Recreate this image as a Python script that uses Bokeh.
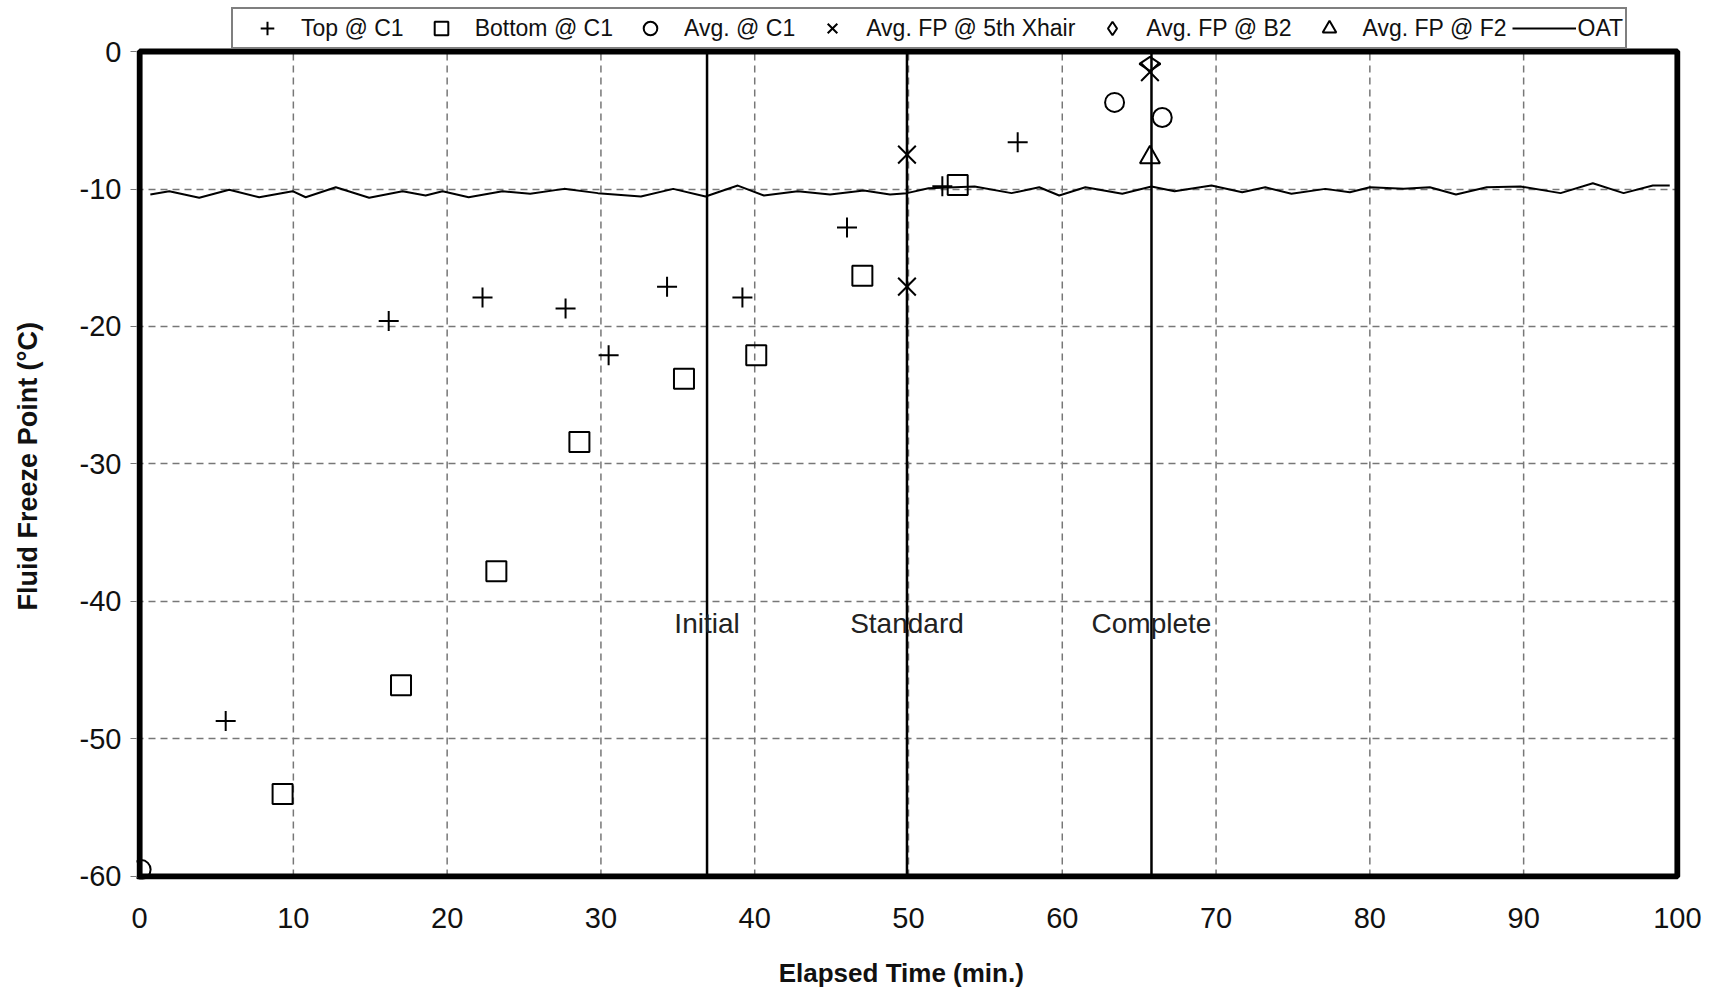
import math
from bokeh.plotting import figure
from bokeh.models import Range1d, FixedTicker, Legend, LegendItem
from bokeh.core.properties import value
from bokeh.embed import file_html
from bokeh.resources import INLINE

# ---- data ----
top_x = [5.6, 16.2, 22.3, 27.7, 30.5, 34.3, 39.2, 46.0, 52.2, 57.1]
top_y = [-48.7, -19.6, -17.9, -18.7, -22.1, -17.1, -17.9, -12.8, -9.8, -6.6]

bot_x = [9.3, 17.0, 23.2, 28.6, 35.4, 40.1, 47.0, 53.2]
bot_y = [-54.0, -46.1, -37.8, -28.4, -23.8, -22.1, -16.3, -9.7]

avg_x = [0.1, 63.4, 66.5]
avg_y = [-59.5, -3.7, -4.8]

xhair_x = [49.9, 49.9, 65.7]
xhair_y = [-7.5, -17.1, -1.5]

b2_x = [65.7]
b2_y = [-0.9]

f2_x = [65.7]
f2_y = [-7.7]

oat_x = [0.7, 1.93, 3.88, 5.83, 7.78, 9.95, 10.8, 12.76, 14.93, 17.1, 18.6, 19.7,
         21.4, 23.6, 25.4, 27.6, 29.8, 32.6, 34.7, 36.8, 38.9, 40.6, 42.8, 44.9,
         47.1, 48.8, 49.9, 51.3, 54.3, 56.7, 58.5, 59.8, 61.5, 63.9, 65.8, 67.3,
         69.7, 71.7, 73.2, 74.9, 77.1, 78.7, 80.0, 82.2, 83.9, 85.6, 87.6, 89.8,
         92.4, 94.5, 96.5, 98.4, 99.5]
oat_y = [-10.4, -10.16, -10.64, -10.06, -10.6, -10.16, -10.6, -9.87, -10.64, -10.16, -10.47, -10.16,
         -10.6, -10.16, -10.35, -9.99, -10.3, -10.55, -9.99, -10.55, -9.75, -10.47, -10.16, -10.4,
         -10.11, -10.4, -10.3, -9.95, -9.82, -10.3, -9.87, -10.47, -9.87, -10.35, -9.82, -10.16,
         -9.75, -10.23, -9.87, -10.35, -9.99, -10.23, -9.87, -9.99, -9.87, -10.4, -9.87, -9.82,
         -10.3, -9.58, -10.3, -9.75, -9.75]

event_x = [36.9, 49.9, 65.8]
event_labels = ["Initial", "Standard", "Complete"]
event_label_y = [-41.6, -41.6, -41.6]

x_min, x_max = 0, 100
y_min, y_max = -60, 0
x_ticks = [0, 10, 20, 30, 40, 50, 60, 70, 80, 90, 100]
y_ticks = [0, -10, -20, -30, -40, -50, -60]
y_tick_labels = ["0", "-10", "-20", "-30", "-40", "-50", "-60"]

FONT = "Liberation Sans"
NB = "\u00a0"

# frame reaches up under the legend; the chart box itself is drawn as a quad
p = figure(width=1711, height=992, output_backend="svg", toolbar_location=None,
           x_range=Range1d(-0.2, 100.2), y_range=Range1d(-60.22, 3.71))
p.min_border_left = 136
p.min_border_right = 31
p.min_border_top = 0
p.min_border_bottom = 113
p.outline_line_color = None

# grids
p.ygrid.ticker = FixedTicker(ticks=y_ticks)
p.ygrid.grid_line_color = "#777777"
p.ygrid.grid_line_dash = "7 5"
p.ygrid.grid_line_width = 1.5
p.xgrid.visible = False
p.segment(x0=x_ticks, y0=[y_min] * len(x_ticks), x1=x_ticks, y1=[y_max] * len(x_ticks),
          line_color="#777777", line_dash="7 5", line_width=1.5)

# chart box
p.quad(left=[x_min], right=[x_max], bottom=[y_min], top=[y_max],
       fill_color=None, line_color="black", line_width=6)

# axes
p.xaxis.ticker = FixedTicker(ticks=x_ticks)
p.yaxis.ticker = FixedTicker(ticks=y_ticks)
p.yaxis.major_label_overrides = {t: l for t, l in zip(y_ticks, y_tick_labels)}
for ax in (p.xaxis[0], p.yaxis[0]):
    ax.axis_line_color = None
    ax.minor_tick_line_color = None
    ax.major_label_text_font = FONT
    ax.major_label_text_font_size = "29px"
    ax.major_label_text_color = "#111111"
    ax.axis_label_text_font = FONT
    ax.axis_label_text_font_style = "bold"
    ax.axis_label_text_color = "#111111"
p.xaxis.major_tick_out = 0
p.xaxis.major_tick_in = 0
p.xaxis.major_label_standoff = 28
p.xaxis.axis_label = "Elapsed Time (min.)" + NB * 2
p.xaxis.axis_label_text_font_size = "26px"
p.xaxis.axis_label_standoff = 27
p.yaxis.major_tick_out = 6
p.yaxis.major_tick_in = 0
p.yaxis.major_tick_line_color = "#777777"
p.yaxis.major_label_standoff = 9
p.yaxis.axis_label = "Fluid Freeze Point (\u00b0C)" + NB * 7
p.yaxis.axis_label_text_font_size = "27px"
p.yaxis.axis_label_standoff = 34

# event lines and labels
p.segment(x0=event_x, y0=[y_min] * 3, x1=event_x, y1=[y_max] * 3,
          line_color="black", line_width=2.5)
p.text(x=event_x, y=event_label_y, text=event_labels, text_align="center",
       text_baseline="middle", text_font=value(FONT), text_font_size="28px",
       text_color="#222222")

# series
lw = 2
oat = p.line(oat_x, oat_y, line_color="black", line_width=2)
r_top = p.scatter(top_x, top_y, marker="cross", size=20, line_color="black", line_width=lw)
r_bot = p.scatter(bot_x, bot_y, marker="square", size=20, fill_color=None, line_color="black", line_width=lw)
r_avg = p.scatter(avg_x, avg_y, marker="circle", size=19, fill_color=None, line_color="black", line_width=lw)
r_xh = p.scatter(xhair_x, xhair_y, marker="x", size=25, line_color="black", line_width=lw)
r_b2 = p.scatter(b2_x, b2_y, marker="diamond", angle=math.pi / 2, size=21, fill_color=None,
                 line_color="black", line_width=lw)
r_f2 = p.scatter(f2_x, f2_y, marker="triangle", size=20, fill_color=None, line_color="black", line_width=lw)

legend = Legend(items=[
    LegendItem(label="Top @ C1", renderers=[r_top]),
    LegendItem(label="Bottom @ C1", renderers=[r_bot]),
    LegendItem(label="Avg. @ C1", renderers=[r_avg]),
    LegendItem(label="Avg. FP @ 5th Xhair", renderers=[r_xh]),
    LegendItem(label="Avg. FP @ B2", renderers=[r_b2]),
    LegendItem(label="Avg. FP @ F2", renderers=[r_f2]),
    LegendItem(label="OAT", renderers=[oat]),
], orientation="horizontal", location=(95, 830))
legend.label_text_font = FONT
legend.label_text_font_size = "23px"
legend.label_text_color = "#111111"
legend.glyph_width = 64
legend.glyph_height = 34
legend.label_standoff = 2
legend.spacing = 5
legend.padding = 2
legend.margin = 0
legend.border_line_color = "black"
legend.border_line_width = 2
legend.background_fill_color = "white"
legend.background_fill_alpha = 1.0
p.add_layout(legend, "center")

open("out.html", "w").write(file_html(p, INLINE))
